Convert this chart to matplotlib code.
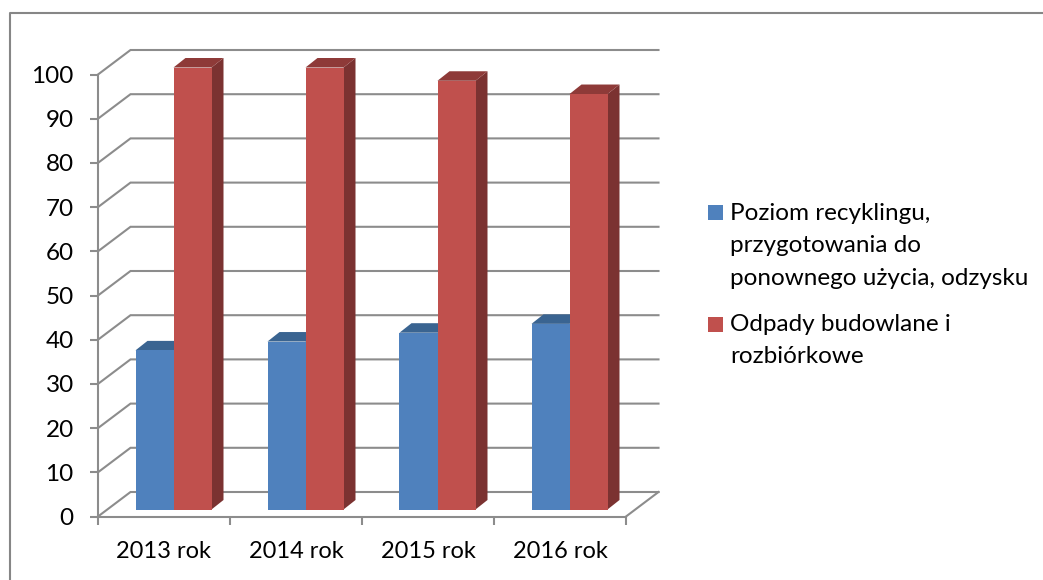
import matplotlib
matplotlib.use("Agg")
import matplotlib.pyplot as plt
from matplotlib.patches import Rectangle

plt.rcParams['font.family'] = ['Lato', 'DejaVu Sans']

years = ["2013 rok", "2014 rok", "2015 rok", "2016 rok"]
recykling = [36, 38, 40, 42]
odpady = [100, 100, 97, 94]
yticks = list(range(0, 101, 10))
legend_labels = ["Poziom recyklingu,\nprzygotowania do\nponownego użycia, odzysku",
                 "Odpady budowlane i\nrozbiórkowe"]

W, H = 1043, 580
GRID = "#8c8c8c"

fig = plt.figure(figsize=(W / 100, H / 100), dpi=100)
fig.patch.set_facecolor("white")

# plot area in pixels of the reference (front plane)
left, right, y0, y100 = 98, 626, 516.5, 74.5
ax = fig.add_axes([left / W, 1 - y0 / H, (right - left) / W, (y0 - y100) / H])
ax.set_xlim(0, 4)
ax.set_ylim(0, 100)
ax.patch.set_visible(False)

px_x = 4 / (right - left)
px_y = 100 / (y0 - y100)

# fake 3d depth of the walls
dx, dy = 32.5 * px_x, 24.5 * px_y

for v in yticks:
    ax.plot([0, dx, 4 + dx], [v, v + dy, v + dy], color=GRID, lw=1.5, clip_on=False, zorder=1,
            solid_joinstyle="miter")
ax.plot([4, 4 + dx], [0, dy], color=GRID, lw=1.5, clip_on=False, zorder=1)


def bar3d(x, w, val, front, top, side):
    # offsets of the bar inside the depth
    sx, sy = 9.5 * px_x, 7 * px_y
    bx, by = 12 * px_x, 9.5 * px_y
    x0 = x + sx
    x1 = x0 + w
    y0_, y1_ = sy, val + sy
    ax.fill([x1, x1 + bx, x1 + bx, x1], [y0_, y0_ + by, y1_ + by, y1_], color=side, lw=0, clip_on=False, zorder=3)
    ax.fill([x0, x0 + bx, x1 + bx, x1], [y1_, y1_ + by, y1_ + by, y1_], color=top, lw=0, clip_on=False, zorder=3)
    ax.fill([x0, x1, x1, x0], [y0_, y0_, y1_, y1_], color=front, lw=0, clip_on=False, zorder=3)


bw = 38 * px_x
for i in range(len(years)):
    c = i + 0.5
    bar3d(c - bw, bw, recykling[i], "#4F81BD", "#3A6491", "#325780")
    bar3d(c, bw, odpady[i], "#C0504D", "#8E3A38", "#7B3231")

# axes
for s in ["top", "right"]:
    ax.spines[s].set_visible(False)
for s in ["left", "bottom"]:
    ax.spines[s].set_color(GRID)
    ax.spines[s].set_linewidth(1.5)
    ax.spines[s].set_zorder(4)

ax.set_yticks(yticks)
ax.set_xticks(range(5))
ax.set_xticklabels([])
ax.set_xticks([i + 0.5 for i in range(4)], minor=True)
ax.set_xticklabels(years, minor=True)
ax.tick_params(axis="y", length=6, width=1.5, color=GRID, labelsize=17.5, pad=11.5, labelcolor="black")
ax.tick_params(axis="x", which="major", length=6, width=1.5, color=GRID)
ax.tick_params(axis="x", which="minor", length=0, labelsize=17, pad=18, labelcolor="black")

# legend drawn by hand, the squares sit on the first text line
overlay = fig.add_axes([0, 0, 1, 1])
overlay.set_xlim(0, W)
overlay.set_ylim(H, 0)
overlay.axis("off")
overlay.patch.set_visible(False)
overlay.add_patch(Rectangle((708, 205), 15, 15, color="#4F81BD", lw=0))
overlay.add_patch(Rectangle((708, 317), 15, 15, color="#C0504D", lw=0))
overlay.text(730, 203, legend_labels[0], fontsize=17.5, va="top", ha="left", linespacing=1.67, color="black")
overlay.text(730, 314, legend_labels[1], fontsize=17.5, va="top", ha="left", linespacing=1.67, color="black")

# chart frame
overlay.plot([10, 10, W], [H, 13, 13], color="#868686", lw=1.5, clip_on=False)

fig.savefig("out.png", dpi=100)
